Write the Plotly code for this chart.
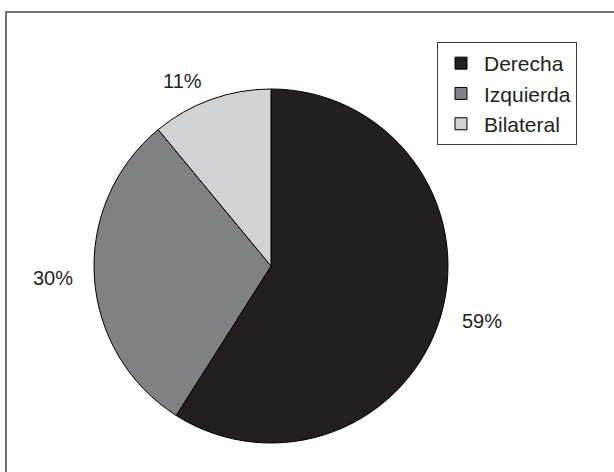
import numpy as np
import plotly.graph_objects as go

labels = ["Derecha", "Izquierda", "Bilateral"]
values = [59, 30, 11]
colors = ["#231f20", "#808184", "#d1d2d4"]
pct_text = ["59%", "30%", "11%"]

W, H = 614, 472
cx, cy, r = 271, 266, 177  # pie center/radius in pixels

fig = go.Figure(go.Pie(
    labels=labels, values=values, sort=False, direction="clockwise", rotation=0,
    marker=dict(colors=colors, line=dict(color="#000000", width=1)),
    textinfo="none", hoverinfo="label+percent",
    domain=dict(x=[(cx - r) / W, (cx + r) / W], y=[1 - (cy + r) / H, 1 - (cy - r) / H]),
))

# percentage labels placed outside along slice mid-angles
vals = np.array(values, dtype=float)
frac = vals / vals.sum()
mid = (np.cumsum(frac) - frac / 2) * 2 * np.pi
ann = []
for t, a in zip(pct_text, mid):
    dx, dy = np.sin(a), -np.cos(a)
    px = cx + 1.11 * r * dx
    py = cy + 1.11 * r * dy
    ann.append(dict(x=px / W, y=1 - py / H, xref="paper", yref="paper", text=t,
                    showarrow=False, xanchor="left" if dx > 0 else "right", yanchor="middle",
                    font=dict(size=20, color="#231f20", family="Liberation Sans, Arial, sans-serif")))

fig.update_layout(
    width=W, height=H, margin=dict(l=0, r=0, t=0, b=0),
    paper_bgcolor="white", plot_bgcolor="white",
    font=dict(family="Liberation Sans, Arial, sans-serif", size=21, color="#231f20"),
    annotations=ann,
    legend=dict(x=437 / W, y=1 - 42 / H, xanchor="left", yanchor="top",
                bordercolor="#3a3a3a", borderwidth=1, bgcolor="white",
                itemwidth=36, font=dict(size=21, color="#231f20"), tracegroupgap=0),
    shapes=[dict(type="rect", xref="paper", yref="paper", x0=6 / W, x1=1.05,
                 y0=-0.05, y1=1 - 12 / H, line=dict(color="#444444", width=1.5))],
)

fig.write_html("out.html", config={"displayModeBar": False},
               post_script="document.body.style.margin='0px';")
